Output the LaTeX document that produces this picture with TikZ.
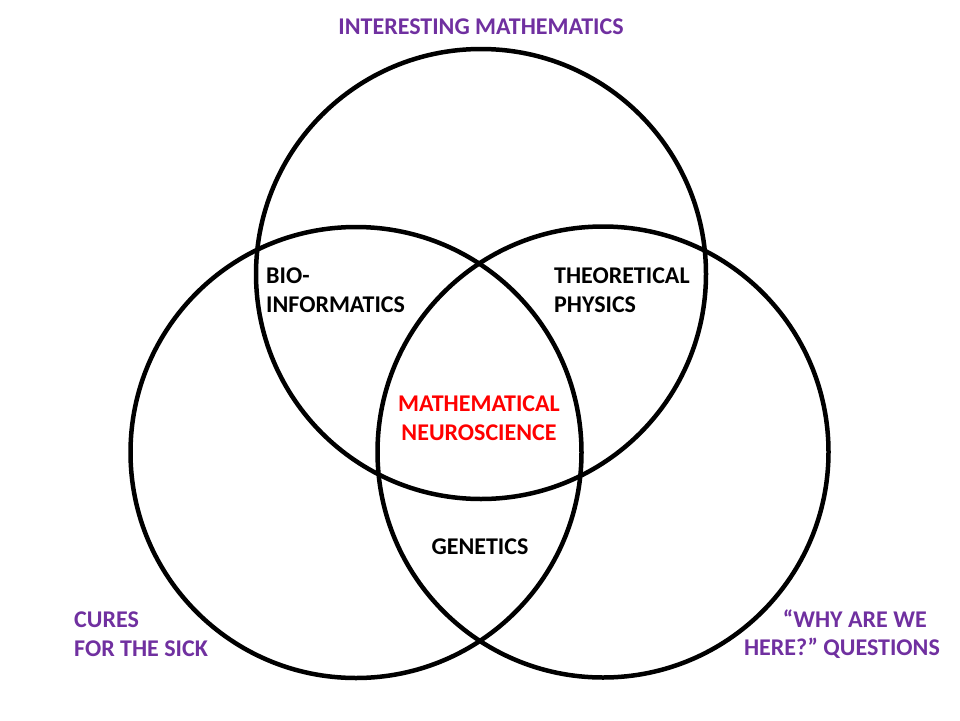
\documentclass[tikz,border=0pt]{standalone}
\usepackage{fontspec}
\setmainfont{Carlito}
\definecolor{vpurple}{HTML}{7030A0}
\definecolor{vred}{HTML}{FF0000}
\begin{document}
\begin{tikzpicture}[x=1pt,y=-1pt,
  ring/.style={draw=black,line width=4.5pt},
  lbl/.style={inner sep=0pt,font=\fontsize{24}{28.5}\selectfont\bfseries},
  outer/.style={lbl,text=vpurple},
  inter/.style={lbl,text=black},
  core/.style={lbl,text=vred}]
\useasboundingbox[fill=white] (0,0) rectangle (960,720);
\node[ring,circle,minimum size=450pt,inner sep=0pt] (top) at (481,274) {};
\node[ring,circle,minimum size=451pt,inner sep=0pt] (left) at (356,452.5) {};
\node[ring,circle,minimum size=451pt,inner sep=0pt] (right) at (603,452) {};
\node[outer,anchor=center] (math) at (481,27) {INTERESTING MATHEMATICS};
\node[inter,anchor=west,align=left] (bio) at (266,290) {BIO-\\INFORMATICS};
\node[inter,anchor=west,align=left] (phys) at (554,290) {THEORETICAL\\PHYSICS};
\node[core,anchor=center,align=center] (neuro) at (479,418) {MATHEMATICAL\\NEUROSCIENCE};
\node[inter,anchor=center] (gen) at (480,547) {GENETICS};
\node[outer,anchor=west,align=left] (cures) at (74,634) {CURES\\FOR THE SICK};
\node[outer,anchor=east,align=right] (why) at (940,634) {“WHY ARE WE\hspace*{13pt}\\HERE?” QUESTIONS};
\end{tikzpicture}
\end{document}
